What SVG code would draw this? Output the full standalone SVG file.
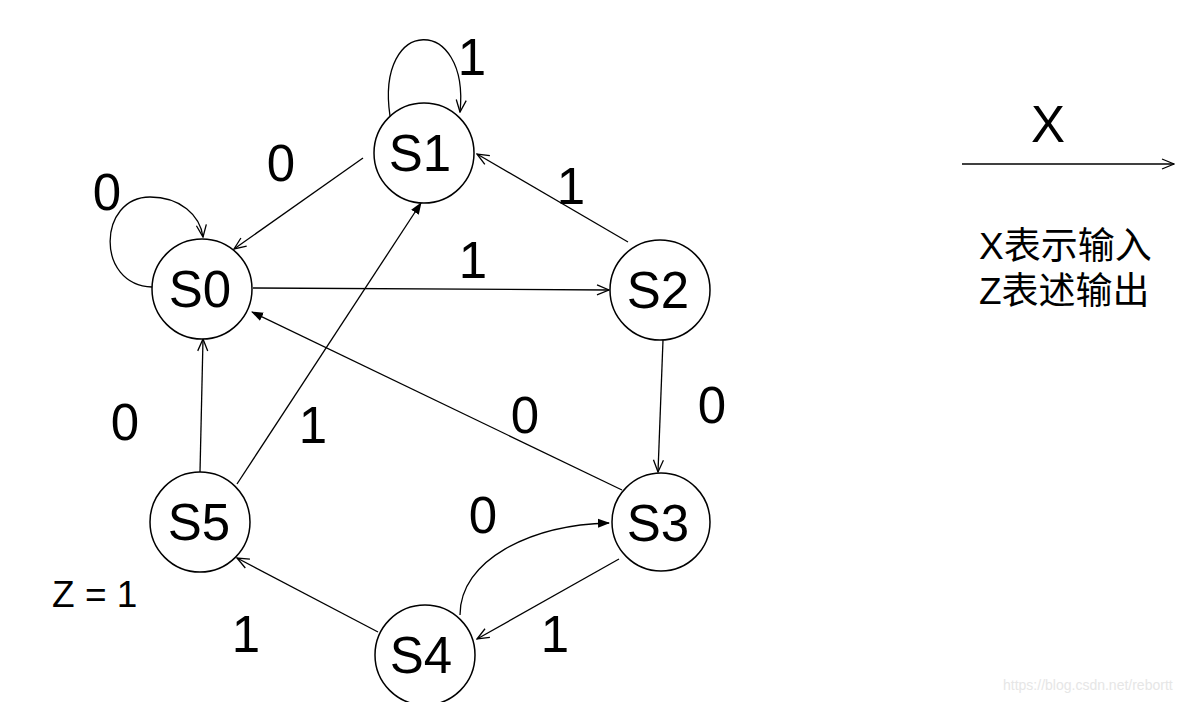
<svg xmlns="http://www.w3.org/2000/svg" width="1202" height="702" viewBox="0 0 1202 702">
<style>
.st{fill:#fff;stroke:#000;stroke-width:1.5}
.sl{font-family:"Liberation Sans",Arial,sans-serif;font-size:51px;fill:#000;text-anchor:middle}
.lb{font-family:"Liberation Sans",Arial,sans-serif;font-size:51px;fill:#000;text-anchor:middle}
.e{fill:none;stroke:#000;stroke-width:1.3}
.cn{font-family:"Liberation Sans","Noto Sans CJK SC",sans-serif;font-size:37px;fill:#000}
</style>
<defs>
<marker id="o" viewBox="0 0 14 12" refX="13" refY="6" markerWidth="14" markerHeight="12" markerUnits="userSpaceOnUse" orient="auto"><path d="M1,1 L13,6 L1,11" fill="none" stroke="#000" stroke-width="1.3"/></marker>
<marker id="f" viewBox="0 0 12 10" refX="11" refY="5" markerWidth="12" markerHeight="10" markerUnits="userSpaceOnUse" orient="auto"><path d="M0,0.5 L12,5 L0,9.5 z" fill="#000"/></marker>
</defs>
<rect width="1202" height="702" fill="#fff"/>
<g id="connectors">
<path class="e" d="M390,116 C375,15 470,15 460,112" marker-end="url(#o)"/>
<path class="e" d="M152,287 C95,285 98,197 150,197 C180,197 200,215 203,237" marker-end="url(#o)"/>
<line class="e" x1="363" y1="158" x2="234" y2="249" marker-end="url(#o)"/>
<line class="e" x1="253" y1="288" x2="609" y2="290" marker-end="url(#o)"/>
<line class="e" x1="628" y1="242" x2="477" y2="154" marker-end="url(#o)"/>
<line class="e" x1="663" y1="340" x2="658" y2="472" marker-end="url(#o)"/>
<line class="e" x1="622" y1="490" x2="252" y2="312" marker-end="url(#f)"/>
<line class="e" x1="200" y1="472" x2="203" y2="339" marker-end="url(#o)"/>
<line class="e" x1="237" y1="484" x2="421" y2="203" marker-end="url(#f)"/>
<line class="e" x1="378" y1="632" x2="237" y2="558" marker-end="url(#o)"/>
<line class="e" x1="619" y1="559" x2="477" y2="639" marker-end="url(#o)"/>
<path class="e" d="M460,615 C460,560 530,525 609,523" marker-end="url(#f)"/>
<line class="e" x1="962" y1="164" x2="1174" y2="164" marker-end="url(#o)"/>
</g>
<g id="S0"><circle class="st" cx="202" cy="289" r="50"/><text class="sl" x="200" y="307">S0</text></g>
<g id="S1"><circle class="st" cx="424" cy="153" r="50"/><text class="sl" x="420" y="171">S1</text></g>
<g id="S2"><circle class="st" cx="660" cy="290" r="50"/><text class="sl" x="658" y="308">S2</text></g>
<g id="S3"><circle class="st" cx="661" cy="522" r="49"/><text class="sl" x="658" y="541">S3</text></g>
<g id="S4"><circle class="st" cx="425" cy="655" r="50"/><text class="sl" x="421" y="673">S4</text></g>
<g id="S5"><circle class="st" cx="200" cy="522" r="50"/><text class="sl" x="199" y="540">S5</text></g>
<g id="labels">
<text class="lb" x="472" y="75">1</text>
<text class="lb" x="281" y="181">0</text>
<text class="lb" x="107" y="210">0</text>
<text class="lb" x="571" y="204">1</text>
<text class="lb" x="473" y="278">1</text>
<text class="lb" x="712" y="423">0</text>
<text class="lb" x="125" y="440">0</text>
<text class="lb" x="313" y="443">1</text>
<text class="lb" x="525" y="433">0</text>
<text class="lb" x="483" y="533">0</text>
<text class="lb" x="246" y="652">1</text>
<text class="lb" x="555" y="652">1</text>
<text x="52" y="607" font-family="Liberation Sans, Arial, sans-serif" font-size="37">Z = 1</text>
</g>
<g id="legend">
<text x="1048" y="142" font-family="Liberation Sans, Arial, sans-serif" font-size="51" text-anchor="middle">X</text>
<text class="cn" x="979" y="259">X表示输入</text>
<text class="cn" x="979" y="304">Z表述输出</text>
</g>
<text x="1003" y="690" font-family="Liberation Sans, Arial, sans-serif" font-size="14" fill="#e6e6e6">https://blog.csdn.net/rebortt</text>
</svg>
